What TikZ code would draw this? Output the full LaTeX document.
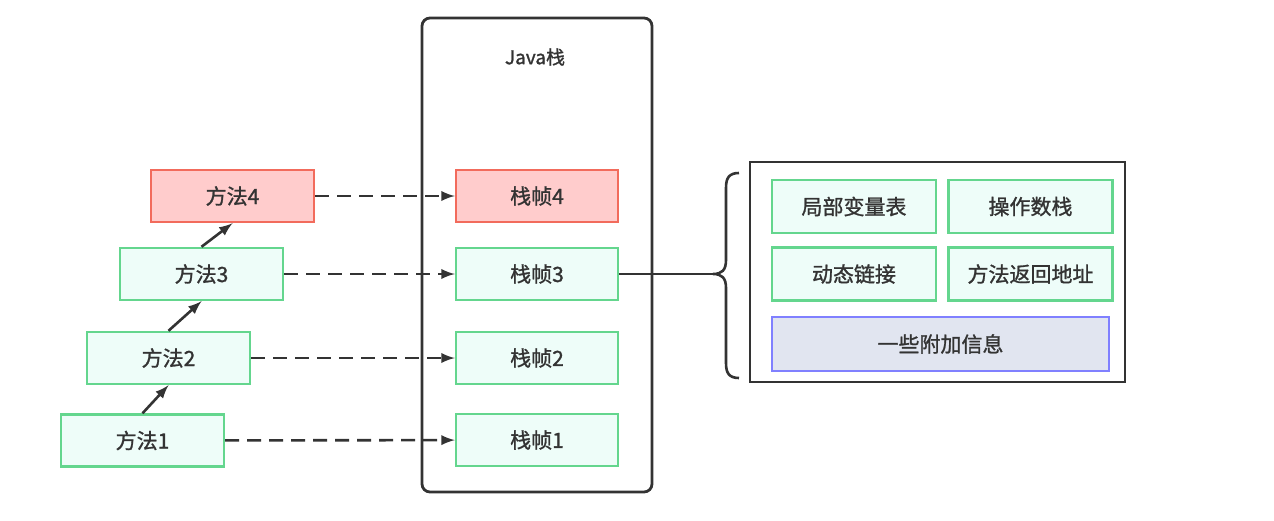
\documentclass[tikz,border=0pt]{standalone}
\usepackage{fontspec}
\setmainfont{Noto Sans CJK SC}
\newfontfamily\labelfont{Noto Sans CJK SC}[FakeBold=1.2]
\usetikzlibrary{arrows}
\definecolor{greenline}{RGB}{100,214,142}
\definecolor{greenfill}{RGB}{238,253,249}
\definecolor{redline}{RGB}{242,107,92}
\definecolor{redfill}{RGB}{255,204,204}
\definecolor{blueline}{RGB}{128,128,255}
\definecolor{bluefill}{RGB}{225,229,240}
\definecolor{darkline}{RGB}{51,51,51}
\tikzstyle{method} = [rectangle, minimum width=81.5pt, minimum height=26pt, text centered, draw=greenline, fill=greenfill, line width=1.2pt, text=darkline, font=\labelfont\fontsize{10.5pt}{12pt}\selectfont]
\tikzstyle{hotmethod} = [method, draw=redline, fill=redfill]
\tikzstyle{part} = [method, minimum width=82pt, minimum height=26.5pt]
\tikzstyle{extra} = [method, minimum width=168.5pt, minimum height=27pt, draw=blueline, fill=bluefill]
\tikzstyle{stackbox} = [rectangle, rounded corners=4pt, draw=darkline, line width=1.4pt, minimum width=115pt, minimum height=237pt]
\tikzstyle{detailbox} = [rectangle, draw=darkline, line width=1.4pt, minimum width=187.5pt, minimum height=110pt]
\tikzstyle{arrow} = [line width=1.3pt,->,>=latex, draw=darkline]
\tikzstyle{dasharrow} = [arrow, dash pattern=on 7pt off 4pt]

\begin{document}
\begin{tikzpicture}[x=0.5pt, y=-0.5pt]
\useasboundingbox (0,0) rectangle (1274,520);

% Java stack
\node (javastack) [stackbox] at (537,255) {};
\node (stacktitle) [text=darkline, font=\labelfont\fontsize{9.5pt}{11pt}\selectfont] at (535,57) {Java栈};

% Methods
\node (m1) [method] at (142.5,440.5) {方法1};
\node (m2) [method] at (168.5,358) {方法2};
\node (m3) [method] at (201.5,274) {方法3};
\node (m4) [hotmethod] at (232.5,196) {方法4};

% Frames
\node (f1) [method, minimum width=81pt] at (537,440) {栈帧1};
\node (f2) [method, minimum width=81pt] at (537,358) {栈帧2};
\node (f3) [method, minimum width=81pt] at (537,274) {栈帧3};
\node (f4) [hotmethod, minimum width=81pt] at (537,196) {栈帧4};

% Frame contents
\node (detail) [detailbox] at (937.5,272) {};
\node (locals) [part] at (854,206.5) {局部变量表};
\node (operands) [part] at (1030.5,206.5) {操作数栈};
\node (dynlink) [part] at (854,274) {动态链接};
\node (retaddr) [part] at (1030.5,274) {方法返回地址};
\node (addinfo) [extra] at (940.5,344) {一些附加信息};

% Brace
\coordinate (bracetip) at (713,274);
\draw [darkline, line width=1.3pt] (739,173) .. controls (729,173) and (726,178) .. (726,188) -- (726,260) .. controls (726,270) and (722,274) .. (bracetip) .. controls (722,274) and (726,278) .. (726,288) -- (726,363) .. controls (726,373) and (729,378) .. (739,378);

% Arrows
\draw [arrow] (m1.north) -- (m2.south);
\draw [arrow] (m2.north) -- (m3.south);
\draw [arrow] (m3.north) -- (m4.south);
\draw [dasharrow] (m1) -- (f1);
\draw [dasharrow] (m2) -- (f2);
\draw [dasharrow] (m3) -- (f3);
\draw [dasharrow] (m4) -- (f4);
\draw [darkline, line width=1.3pt] (f3.east) -- (bracetip);

\end{tikzpicture}
\end{document}
